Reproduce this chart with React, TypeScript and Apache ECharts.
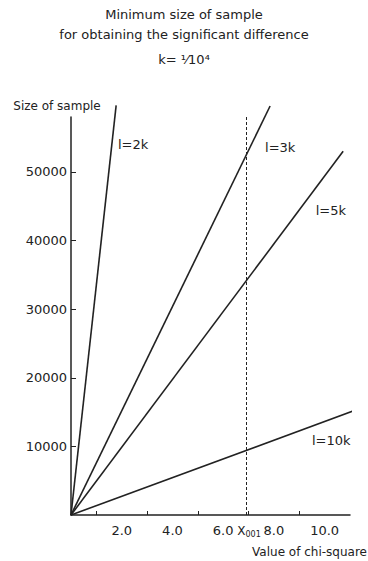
import React, { useEffect, useRef } from "react";
import * as echarts from "echarts";

const titleText = "Minimum size of sample\nfor obtaining the significant difference";
const subtitleText = "k= ¹⁄10⁴";
const xAxisName = "Value of chi-square";
const yAxisName = "Size of sample";
const xTickValues = [1, 3, 5, 7, 9];
const xLabelValues = [2, 4, 6, 6.9, 8, 10];
const yTickValues = [10000, 20000, 30000, 40000, 50000];
const chiCritical = 6.9;
const seriesNames = ["l=2k", "l=3k", "l=5k", "l=10k"];
const line2k = [[0, 0], [1.78, 59700]];
const line3k = [[0, 0], [7.85, 59600]];
const line5k = [[0, 0], [10.73, 53000]];
const line10k = [[0, 0], [11.16, 15200]];
const seriesData = [line2k, line3k, line5k, line10k];
// label anchor positions (data coords) for each line label
const labelAnchors = [[1.85, 54000], [7.65, 53600], [9.65, 44400], [9.5, 10800]];

const FONT = "DejaVu Sans";
const INK = "#222";

export default function App() {
  const ref = useRef<HTMLDivElement>(null);
  useEffect(() => {
    if (!ref.current) return;
    document.body.style.margin = "0";
    const chart = echarts.init(ref.current, null, { renderer: "svg" });
    const option: any = {
      animation: false,
      backgroundColor: "#fff",
      title: {
        text: titleText,
        subtext: subtitleText,
        left: "center",
        top: 4,
        padding: 0,
        itemGap: 6,
        textStyle: { fontFamily: FONT, fontSize: 13, fontWeight: "normal", color: INK, lineHeight: 20 },
        subtextStyle: { fontFamily: FONT, fontSize: 13, color: INK, lineHeight: 18 },
      },
      grid: { left: 71, right: 18, top: 117, bottom: 46, outerBoundsMode: "none" },
      xAxis: {
        type: "value",
        min: 0,
        max: 11,
        name: xAxisName,
        nameLocation: "end",
        nameGap: 17,
        nameTextStyle: { fontFamily: FONT, fontSize: 12, color: INK, align: "right", verticalAlign: "top", padding: [31, 0, 0, 0] },
        axisLine: { lineStyle: { color: INK, width: 1.5 } },
        splitLine: { show: false },
        axisTick: { show: true, inside: true, length: 4, customValues: xTickValues, lineStyle: { color: INK } },
        axisLabel: {
          customValues: xLabelValues,
          hideOverlap: false,
          margin: 9,
          fontFamily: FONT,
          fontSize: 13,
          color: INK,
          formatter: (v: number) =>
            Math.abs(v - chiCritical) < 0.01 ? "{x|X}{s|001}" : v.toFixed(1),
          rich: {
            x: { fontFamily: FONT, fontSize: 12, color: INK, padding: [0, 0, 0, 6] },
            s: { fontFamily: FONT, fontSize: 8, color: INK, padding: [6, 0, 0, 0] },
          },
        },
      },
      yAxis: {
        type: "value",
        min: 0,
        max: 58000,
        name: yAxisName,
        nameLocation: "end",
        nameGap: 5,
        nameTextStyle: { fontFamily: FONT, fontSize: 12, color: INK, align: "center", padding: [0, 28, 0, 0] },
        axisLine: { show: true, lineStyle: { color: INK, width: 1.5 } },
        splitLine: { show: false },
        axisTick: { show: true, inside: true, length: 5, customValues: yTickValues, lineStyle: { color: INK } },
        axisLabel: {
          customValues: yTickValues,
          margin: 4,
          fontFamily: FONT,
          fontSize: 13,
          color: INK,
          formatter: (v: number) => String(v),
        },
      },
      series: seriesData.map((d, i) => ({
        type: "line",
        name: seriesNames[i],
        data: d,
        clip: false,
        symbol: "none",
        lineStyle: { color: INK, width: 1.6 },
        markLine:
          i === 0
            ? {
                silent: true,
                symbol: "none",
                label: { show: false },
                lineStyle: { color: INK, type: [3, 2], width: 1 },
                data: [{ xAxis: chiCritical }],
              }
            : undefined,
        markPoint: {
          symbol: "circle",
          symbolSize: 0,
          silent: true,
          label: {
            show: true,
            position: "right",
            distance: 0,
            formatter: seriesNames[i],
            fontFamily: FONT,
            fontSize: 13,
            color: INK,
          },
          data: [{ coord: labelAnchors[i] }],
        },
      })),
    };
    chart.setOption(option);
    return () => chart.dispose();
  }, []);
  return <div ref={ref} style={{ width: 368, height: 561 }} />;
}
